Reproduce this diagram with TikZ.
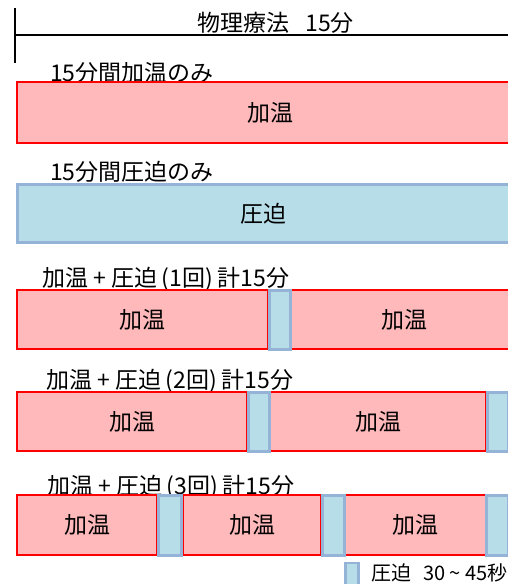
\documentclass[tikz,border=0pt]{standalone}
\usepackage{fontspec}
\setmainfont{Noto Sans CJK JP}
\definecolor{redfill}{HTML}{FFB9BA}
\definecolor{redline}{HTML}{FF0000}
\definecolor{bluefill}{HTML}{B7DDE8}
\definecolor{blueline}{HTML}{95B3D7}
\newcommand{\lp}{\hspace{0.2em}(}
\newcommand{\rp}{)\hspace{0.2em}}
\tikzset{
  box/.style={draw, rectangle, inner sep=0pt, font=\fontsize{23}{26}\selectfont},
  redbox/.style={box, fill=redfill, draw=redline, line width=1.5pt},
  bluebox/.style={box, fill=bluefill, draw=blueline, line width=3pt},
  lbl/.style={anchor=west, inner sep=0pt, font=\fontsize{23}{26}\selectfont},
}
\begin{document}
\begin{tikzpicture}[x=1pt,y=-1pt]
\useasboundingbox (0,0) rectangle (508,584);
\clip (0,0) rectangle (508,584);
% header
\coordinate (vt) at (15,8);
\coordinate (vb) at (15,63);
\coordinate (hl) at (15,35);
\coordinate (hr) at (510,35);
\draw[line width=1.5pt] (vt) -- (vb);
\draw[line width=1.5pt] (hl) -- (hr);
\node[lbl] (title) at (197,23) {物理療法\hspace{0.7em}15分};
% row 1
\node[lbl] (l1) at (50,73) {15分間加温のみ};
\node[redbox, minimum width=506, minimum height=61] (r1) at (270,112.5) {加温};
% row 2
\node[lbl] (l2) at (50,172) {15分間圧迫のみ};
\node[bluebox, minimum width=492, minimum height=58] (b2) at (263,213.5) {圧迫};
% row 3
\node[lbl] (l3) at (42,279) {加温 + 圧迫\lp 1回\rp 計15分};
\node[redbox, minimum width=251, minimum height=59] (r3a) at (142.5,319.5) {加温};
\node[redbox, minimum width=226, minimum height=59] (r3b) at (404,319.5) {加温};
\node[bluebox, minimum width=21, minimum height=59] (b3a) at (279.5,319.5) {};
% row 4
\node[lbl] (l4) at (46,381) {加温 + 圧迫\lp 2回\rp 計15分};
\node[redbox, minimum width=230, minimum height=59] (r4a) at (132,421.5) {加温};
\node[redbox, minimum width=216, minimum height=59] (r4b) at (378,421.5) {加温};
\node[bluebox, minimum width=21, minimum height=59] (b4a) at (259,421.5) {};
\node[bluebox, minimum width=21, minimum height=59] (b4b) at (497.5,421.5) {};
% row 5
\node[lbl] (l5) at (47,487) {加温 + 圧迫\lp 3回\rp 計15分};
\node[redbox, minimum width=140, minimum height=60] (r5a) at (87,525) {加温};
\node[redbox, minimum width=138, minimum height=60] (r5b) at (252,525) {加温};
\node[redbox, minimum width=141, minimum height=60] (r5c) at (415.5,525) {加温};
\node[bluebox, minimum width=23, minimum height=60] (b5a) at (170,525) {};
\node[bluebox, minimum width=22, minimum height=60] (b5b) at (333,525) {};
\node[bluebox, minimum width=22, minimum height=60] (b5c) at (497.5,525) {};
% legend
\node[bluebox, minimum width=13, minimum height=24, line width=2.5pt] (leg) at (352,575) {};
\node[lbl, font=\fontsize{20}{23}\selectfont] (legt) at (371,573) {圧迫\hspace{0.6em}30 {\char"007E} 45秒};
\end{tikzpicture}
\end{document}
